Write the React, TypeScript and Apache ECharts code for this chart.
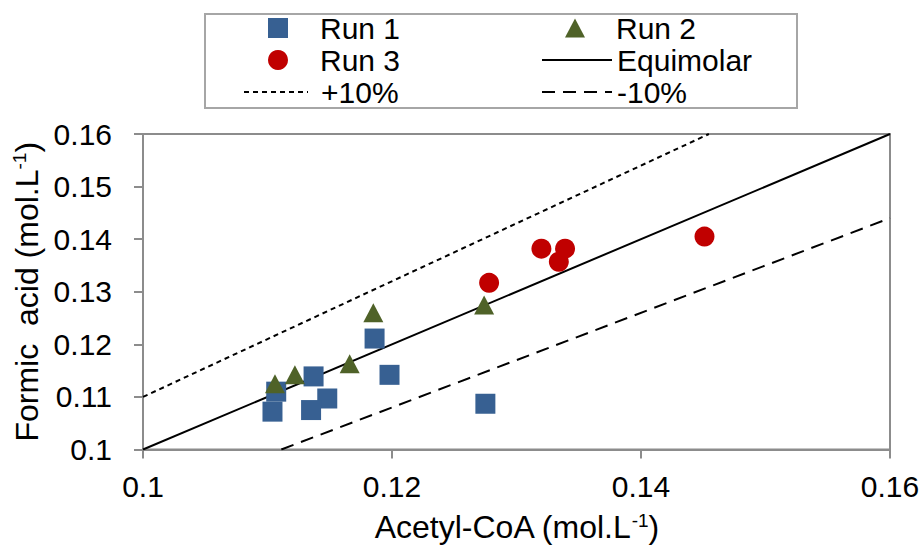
import React, { useEffect, useRef } from "react";
import * as echarts from "echarts";

// Run data: [Acetyl-CoA, Formic acid] (mol/L)
const run1: number[][] = [
  [0.1107, 0.111],
  [0.1104, 0.1072],
  [0.1137, 0.1139],
  [0.1148, 0.1097],
  [0.1135, 0.1075],
  [0.1186, 0.1211],
  [0.1198, 0.1142],
  [0.1275, 0.1087],
];
const run2: number[][] = [
  [0.1106, 0.1125],
  [0.1122, 0.1142],
  [0.1166, 0.1163],
  [0.1185, 0.126],
  [0.1274, 0.1275],
];
const run3: number[][] = [
  [0.1278, 0.1317],
  [0.132, 0.1382],
  [0.1339, 0.1382],
  [0.1334, 0.1357],
  [0.1451, 0.1405],
];
// Reference lines
const equimolar: number[][] = [
  [0.1, 0.1],
  [0.16, 0.16],
];
const plus10: number[][] = [
  [0.1, 0.11],
  [0.16 / 1.1, 0.16],
];
const minus10: number[][] = [
  [0.1 / 0.9, 0.1],
  [0.16, 0.144],
];
const xTicks = [0.1, 0.12, 0.14, 0.16];
const yTicks = [0.1, 0.11, 0.12, 0.13, 0.14, 0.15, 0.16];

const FONT = "'Liberation Sans', Arial, sans-serif";
const FS = 30;
const NAME_FS = 32;

export default function App() {
  const ref = useRef<HTMLDivElement>(null);
  useEffect(() => {
    if (!ref.current) return;
    const chart = echarts.init(ref.current, undefined, { renderer: "svg" });
    const fmt = (v: number) => String(+v.toFixed(3));
    const legendBase = {
      orient: "horizontal" as const,
      padding: 0,
      itemGap: 0,
      textStyle: { fontFamily: FONT, fontSize: FS, color: "#000", lineHeight: 32 },
      selectedMode: false,
    };
    const lineLegend = { itemStyle: { opacity: 0 } };
    const supStyle = {
      fontSize: 19,
      verticalAlign: "top",
      padding: [0, 0, 14, 0],
      fontFamily: FONT,
      color: "#000",
    };
    const option: any = {
      animation: false,
      backgroundColor: "#fff",
      textStyle: { fontFamily: FONT },
      grid: {
        left: 143,
        right: 34,
        top: 134,
        bottom: 98,
        show: true,
        borderColor: "#8c8c8c",
        borderWidth: 2,
        backgroundColor: "transparent",
      },
      graphic: [
        {
          type: "rect",
          shape: { x: 205, y: 14, width: 592, height: 94 },
          style: { fill: "none", stroke: "#a6a6a6", lineWidth: 2 },
          silent: true,
        },
      ],
      legend: [
        {
          ...legendBase,
          data: ["Run 1"],
          left: 268,
          top: 12,
          itemWidth: 20,
          itemHeight: 20,
          textStyle: { ...legendBase.textStyle, padding: [0, 0, 0, 27] },
        },
        {
          ...legendBase,
          data: ["Run 2"],
          left: 565,
          top: 12,
          itemWidth: 20,
          itemHeight: 19,
          textStyle: { ...legendBase.textStyle, padding: [0, 0, 0, 26] },
        },
        {
          ...legendBase,
          data: ["Run 3"],
          left: 268,
          top: 44,
          itemWidth: 20,
          itemHeight: 20,
          textStyle: { ...legendBase.textStyle, padding: [0, 0, 0, 27] },
        },
        {
          ...legendBase,
          ...lineLegend,
          data: ["Equimolar"],
          left: 541,
          top: 44,
          itemWidth: 70,
          itemHeight: 14,
        },
        {
          ...legendBase,
          ...lineLegend,
          data: ["+10%"],
          left: 243,
          top: 76,
          itemWidth: 64,
          itemHeight: 14,
          textStyle: { ...legendBase.textStyle, padding: [0, 0, 0, 8] },
        },
        {
          ...legendBase,
          ...lineLegend,
          data: ["-10%"],
          left: 541,
          top: 76,
          itemWidth: 70,
          itemHeight: 14,
        },
      ],
      xAxis: {
        type: "value",
        min: 0.1,
        max: 0.16,
        interval: 0.02,
        name: "Acetyl-CoA (mol.L{sup|-1})",
        nameLocation: "middle",
        nameGap: 61,
        nameTextStyle: {
          fontFamily: FONT,
          fontSize: NAME_FS,
          color: "#000",
          rich: { sup: supStyle },
        },
        axisLine: { show: true, lineStyle: { color: "#8c8c8c", width: 2 } },
        axisTick: { show: true, inside: false, length: 9, lineStyle: { color: "#8c8c8c", width: 2 } },
        axisLabel: {
          fontFamily: FONT,
          fontSize: FS,
          color: "#000",
          margin: 22,
          formatter: (v: number) => (xTicks.some((t) => Math.abs(t - v) < 1e-9) ? fmt(v) : ""),
        },
        splitLine: { show: false },
      },
      yAxis: {
        type: "value",
        min: 0.1,
        max: 0.16,
        interval: 0.01,
        name: "Formic  acid (mol.L{sup|-1})",
        nameLocation: "middle",
        nameGap: 96,
        nameTextStyle: {
          fontFamily: FONT,
          fontSize: NAME_FS,
          color: "#000",
          rich: { sup: supStyle },
        },
        axisLine: { show: true, lineStyle: { color: "#8c8c8c", width: 2 } },
        axisTick: { show: true, inside: false, length: 9, lineStyle: { color: "#8c8c8c", width: 2 } },
        axisLabel: {
          fontFamily: FONT,
          fontSize: FS,
          color: "#000",
          margin: 31,
          formatter: (v: number) => (yTicks.some((t) => Math.abs(t - v) < 1e-9) ? fmt(v) : ""),
        },
        splitLine: { show: false },
      },
      series: [
        {
          name: "Equimolar",
          type: "line",
          data: equimolar,
          symbol: "none",
          itemStyle: { color: "#000" },
          lineStyle: { color: "#000", width: 2, type: "solid" },
          z: 1,
        },
        {
          name: "+10%",
          type: "line",
          data: plus10,
          symbol: "none",
          itemStyle: { color: "#000" },
          lineStyle: { color: "#000", width: 2, type: [5, 4] },
          z: 1,
        },
        {
          name: "-10%",
          type: "line",
          data: minus10,
          symbol: "none",
          itemStyle: { color: "#000" },
          lineStyle: { color: "#000", width: 2, type: [13, 8] },
          z: 1,
        },
        {
          name: "Run 1",
          type: "scatter",
          data: run1,
          symbol: "rect",
          symbolSize: 20,
          itemStyle: { color: "#376092", opacity: 1 },
          z: 3,
        },
        {
          name: "Run 2",
          type: "scatter",
          data: run2,
          symbol: "triangle",
          symbolSize: [20, 19],
          itemStyle: { color: "#4f6228", opacity: 1 },
          z: 4,
        },
        {
          name: "Run 3",
          type: "scatter",
          data: run3,
          symbol: "circle",
          symbolSize: 20,
          itemStyle: { color: "#c00000", opacity: 1 },
          z: 3,
        },
      ],
    };
    chart.setOption(option);
    return () => chart.dispose();
  }, []);
  return (
    <div
      ref={ref}
      style={{ position: "fixed", left: 0, top: 0, width: 924, height: 548, background: "#fff" }}
    />
  );
}
